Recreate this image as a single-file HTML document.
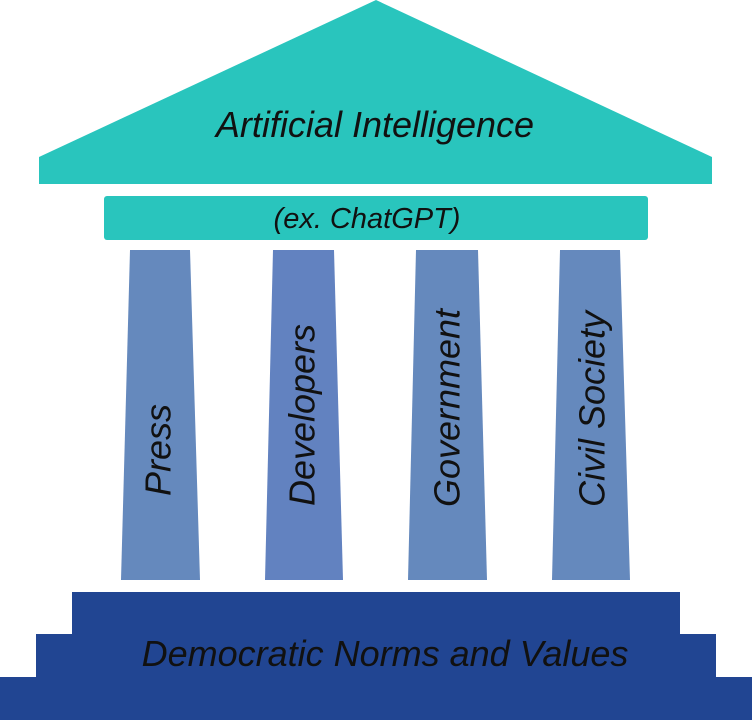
<!DOCTYPE html>
<html><head><style>body{margin:0;background:#fff}svg{display:block}</style></head>
<body>
<svg width="752" height="720" viewBox="0 0 752 720" xmlns="http://www.w3.org/2000/svg" font-family="Liberation Sans, sans-serif" font-style="italic">
<polygon points="376,0 712,157 712,184 39,184 39,157" fill="#29c5bd"/>
<rect x="104" y="196" width="544" height="44" rx="3" fill="#29c5bd"/>
<polygon points="130,250 190,250 200,580 121,580" fill="#6589bd"/>
<polygon points="273,250 334,250 343,580 265,580" fill="#6282c0"/>
<polygon points="416,250 478,250 487,580 408,580" fill="#6589bd"/>
<polygon points="560,250 620,250 630,580 552,580" fill="#6589bd"/>
<polygon points="72,592 680,592 680,634 716,634 716,677 752,677 752,720 0,720 0,677 36,677 36,634 72,634" fill="#214592"/>
<text x="375" y="137" font-size="36" text-anchor="middle" fill="#111">Artificial Intelligence</text>
<text x="367" y="228" font-size="29" text-anchor="middle" fill="#111">(ex. ChatGPT)</text>
<text x="385" y="666" font-size="36" text-anchor="middle" fill="#111">Democratic Norms and Values</text>
<g font-size="36" fill="#111" text-anchor="middle" dominant-baseline="central">
<text transform="translate(158,450) rotate(-90)">Press</text>
<text transform="translate(302,415) rotate(-90)">Developers</text>
<text transform="translate(447,408) rotate(-90)">Government</text>
<text transform="translate(592,409) rotate(-90)">Civil Society</text>
</g>
</svg>
</body></html>
